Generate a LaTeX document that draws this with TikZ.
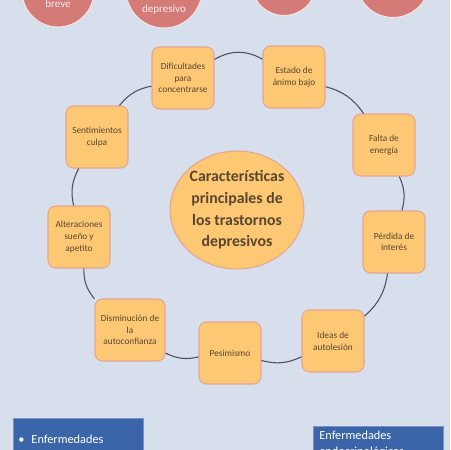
\documentclass[tikz,border=0pt]{standalone}
\usepackage{fontspec}
\setmainfont{Carlito}
\usetikzlibrary{shapes.geometric}
\definecolor{fondo}{HTML}{D6DFEB}
\definecolor{caja}{HTML}{FCC874}
\definecolor{borde}{HTML}{E8A493}
\definecolor{letra}{HTML}{5A4630}
\definecolor{rojo}{HTML}{D47B77}
\definecolor{azul}{HTML}{3C65A9}
\definecolor{linea}{HTML}{4A5064}
\begin{document}
\begin{tikzpicture}[x=0.02cm,y=-0.02cm,
  caract/.style={rectangle,rounded corners=0.15cm,draw=borde,line width=0.6pt,fill=caja,
    minimum width=1.24cm,minimum height=1.24cm,inner sep=1pt,align=center,
    text=letra,font=\fontsize{5.3}{6.6}\selectfont},
  centro/.style={ellipse,draw=borde,line width=0.6pt,fill=caja,minimum width=2.54cm,
    minimum height=2.36cm,inner sep=0pt,align=center,text=letra,
    font=\fontsize{9}{12.4}\selectfont\bfseries},
  circrojo/.style={circle,draw=white!80!rojo,line width=0.6pt,fill=rojo,inner sep=0pt},
  textorojo/.style={text=white!85!rojo,font=\fontsize{6.3}{7.5}\selectfont,align=center},
  cajaazul/.style={rectangle,draw=white!30!azul,line width=0.4pt,fill=azul,anchor=north west,
    minimum width=2.6cm,minimum height=1.2cm,inner sep=0pt},
  textoazul/.style={text=white,font=\fontsize{7}{8.6}\selectfont,align=left,anchor=north west,inner sep=0pt},
  conector/.style={draw=linea,line width=0.6pt}]
\fill[fondo] (0,0) rectangle (450,450);
\useasboundingbox (0,0) rectangle (450,450);
% circulos de arriba
\node[circrojo,minimum size=1.44cm] (r1) at (58,-9) {};
\node[circrojo,minimum size=1.52cm] (r2) at (164,-10) {};
\node[circrojo,minimum size=1.3cm] (r3) at (284,-17) {};
\node[circrojo,minimum size=1.46cm] (r4) at (393,-19) {};
\node[textorojo] (t1) at (58,4) {breve};
\node[textorojo] (t2) at (164,10) {depresivo};
% ciclo
\node[centro] (c) at (237,210) {Características\\principales de\\los trastornos\\depresivos};
\node[caract] (dif) at (183,78) {Dificultades\\para\\concentrarse};
\node[caract] (est) at (294,77) {Estado de\\ánimo bajo};
\node[caract] (fal) at (384,145) {Falta de\\energía};
\node[caract] (per) at (394,242) {Pérdida de\\interés};
\node[caract] (ide) at (333,341) {Ideas de\\autolesión};
\node[caract] (pes) at (230,353) {Pesimismo};
\node[caract,minimum width=1.4cm] (dis) at (130,330) {Disminución de\\la\\autoconfianza};
\node[caract] (alt) at (79,237) {Alteraciones\\sueño y\\apetito};
\node[caract] (sen) at (97,137) {Sentimientos\\culpa};
\draw[conector] (dif) to[bend left=30] (est) (est) to[bend left=20] (fal) (fal) to[bend left=20] (per)
  (per) to[bend left=20] (ide) (ide) to[bend left=20] (pes) (pes) to[bend left=20] (dis)
  (dis) to[bend left=20] (alt) (alt) to[bend left=20] (sen) (sen) to[bend left=20] (dif);
% cajas de abajo
\node[cajaazul] (b1) at (13,418) {};
\node[textoazul] (e1) at (18,435) {•\hspace{4pt}Enfermedades};
\node[cajaazul] (b2) at (313,426) {};
\node[textoazul] (e2) at (319,431) {Enfermedades\\endocrinológicas};
\end{tikzpicture}
\end{document}
